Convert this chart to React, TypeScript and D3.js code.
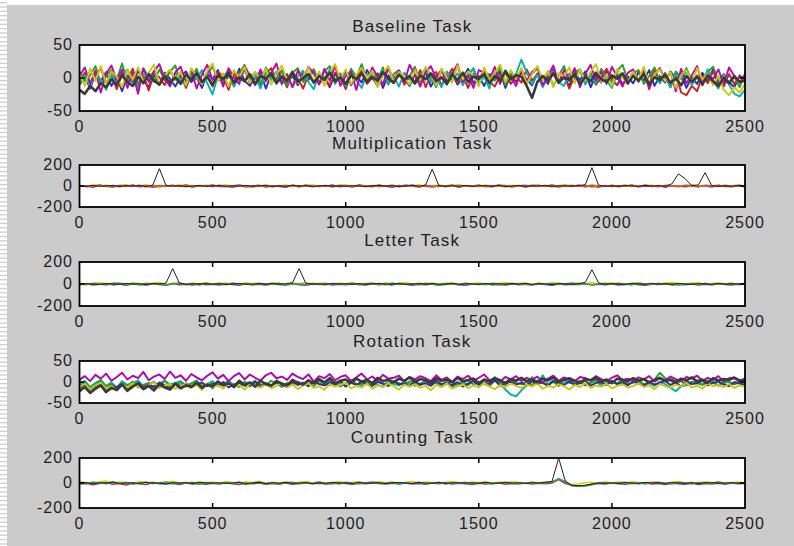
import * as d3 from 'd3';

// tick labels and panel titles
const xTicks = [0, 500, 1000, 1500, 2000, 2500];
const sampleSpan = 2500;
const titles = ['Baseline Task', 'Multiplication Task', 'Letter Task', 'Rotation Task', 'Counting Task'];
const yLimits = [50, 200, 200, 50, 200];

// ---- Baseline task (one value every 20 samples) ----
const baselineBlue = [
    -10, 2, -16, 6, -5, 9, -12, 1, -20, 4, -7, 11, -3, -14, 5, -9, 8, -1, -13, 3, 10,
    -6, 1, -15, 7, -2, 12, -10, 4, -8, 14, -4, -12, 2, 9, -16, 5, -1, 11, -7, 3, -11,
    8, -3, 13, -9, 1, -14, 6, -5, 10, -11, 3, -7, 12, -2, 7, -15, 4, -8, 11, -1, -12,
    5, -6, 9, -13, 2, 12, -4, 7, -10, 1, 14, -8, 3, -12, 6, -3, 10, -15, 4, -6, 8,
    -2, -11, 7, 3, -9, 13, -5, 1, -12, 8, -3, 10, -14, 4, -7, 11, -1, 6, -10, 2, -8,
    9, -4, 12, -12, 3, -7, 10, -2, 6, -15, 1, -9, 8, -5, 13, -11, 2, -6, -14, 4, -3,
];
const baselineRed = [
    -4, 8, -12, 3, 15, -7, 5, -17, 9, -2, 14, -9, 4, -19, 7, 1, -11, 12, -3, 6, -15,
    4, 11, -6, 2, -13, 9, 3, -18, 7, -3, 13, -8, 1, -11, 6, 15, -4, 3, -14, 8, -1,
    -16, 5, 11, -7, 2, -12, 8, 3, -17, 6, -2, 13, -9, 1, -13, 5, 15, -4, 10, -10, 2,
    -6, 12, -14, 4, 9, -11, 1, 14, -8, 3, -15, 7, -2, 11, -5, -13, 4, 9, -9, 2, -7,
    13, -4, 6, -12, 2, 10, -8, 5, -16, 3, 11, -6, 8, -10, 1, 14, -3, -11, 7, -5, 9,
    -2, 5, -9, 12, -6, 3, -14, 8, -22, -26, -12, -20, 4, -8, 10, -4, -13, 6, -9, 2, -6,
];
const baselineGreen = [
    10, -5, 4, 18, -9, 3, 12, -2, 22, -7, 8, -12, 15, 1, -6, 13, -3, 9, 19, -8, 5,
    -1, 14, -10, 7, 17, -4, 2, 11, -13, 6, 20, -2, 9, -8, 16, 3, -5, 12, -11, 8, 15,
    -6, 4, 13, -9, 10, 18, -3, 7, -12, 14, 1, 21, -5, 9, -2, 16, -10, 6, 12, -4, 3,
    17, -7, 10, 2, -14, 13, -1, 8, 19, -6, 5, 14, -9, 11, 3, -4, 16, -11, 7, 1, 12,
    -8, 6, 15, -3, 10, -12, 4, 18, -5, 9, 13, -2, 7, -10, 14, 2, -7, 11, 20, -4, 6,
    12, -9, 3, 16, -5, 8, -13, 10, 1, 15, -6, 4, -11, 9, 17, -3, 6, -8, 2, -14, 7,
];
const baselineCyan = [
    -8, 4, -14, 10, -3, -18, 7, -10, 2, 13, -6, -15, 5, -1, 11, -9, 3, -13, 8, -4, -11,
    6, -2, 12, -8, -25, 4, -5, 9, -12, 1, 14, -7, 3, -16, 8, -3, 10, -10, 5, -14, 2,
    11, -6, -17, 7, -1, 13, -9, 4, -12, 9, -4, -15, 6, 2, -10, 12, -7, 3, -13, 8, -2,
    -9, 5, 14, -6, 1, -14, 10, -3, 7, -11, 4, 15, -8, 2, -16, 9, -5, 12, -1, 6, 28,
    8, -9, 5, -14, 3, 10, -6, -12, 7, -2, 13, -10, 4, -7, 11, -4, -15, 6, 1, -9, 9,
    -5, 12, -12, 3, -8, 8, -14, 5, -2, 10, -11, 2, -7, 13, -4, -16, 6, -10, -24, -28, -18,
];
const baselineMagenta = [
    3, 16, -8, 11, -22, 6, 19, -4, 13, -15, 8, -24, 14, -6, 10, 21, -2, -12, 9, 17, -7,
    12, -16, 5, 20, -3, 9, -13, 15, 1, -9, 18, 4, -11, 13, -5, 8, 22, -8, 6, -14, 11,
    -2, 17, 7, -10, 14, -4, 19, -12, 3, 10, -18, 12, -6, 16, 2, -9, 15, -3, 11, -7, 20,
    5, -13, 9, 18, -1, 13, -10, 7, 21, -6, 4, -15, 12, 8, -3, 17, -9, 10, 1, -12, 14,
    -5, 9, 16, -11, 3, 19, -7, 12, -2, 15, -14, 6, 20, -4, 10, -9, 17, 2, -13, 8, 13,
    -6, 11, -17, 5, 15, -3, 9, -20, 14, -8, 4, 18, -11, 7, -2, 13, -9, 16, 3, -7, 5,
];
const baselineYellow = [
    6, -12, 14, -4, 18, -8, 10, 2, -14, 12, -2, 16, -6, 8, 20, -10, 4, 13, -3, 9, -11,
    15, 3, -9, 11, 22, -5, 7, -13, 12, 1, 17, -7, 9, -2, 14, -10, 6, 19, -4, 11, -8,
    3, 16, -6, 10, -12, 8, 21, -3, 13, -9, 5, 15, -1, 11, -14, 7, 18, -5, 9, 2, -10,
    12, -3, 17, 6, -11, 14, 1, -7, 19, -2, 10, 4, -13, 16, -4, 8, 20, -6, 12, -1, 15,
    -9, 6, 18, -3, 11, -14, 7, 2, 16, -8, 13, -4, 9, 21, -6, 5, -12, 14, 1, -7, 10,
    -3, 17, -10, 6, 13, -5, 9, -15, 4, 12, -8, 15, -2, 7, -11, 3, -18, -26, -14, -22, -9,
];
const baselineDark = [
    -18, -24, -12, -20, -8, -14, -2, -10, 4, -6, -12, 2, -8, 6, -4, -10, 3, -7, 1, -9, 5,
    -3, 7, -6, 2, -10, 4, -2, 8, -7, 1, -5, 6, -9, 3, -1, 7, -8, 2, -4, 9, -6,
    0, 6, -7, 3, -3, 8, -5, 1, -9, 4, -2, 7, -6, 2, -4, 9, -1, -7, 5, -3, 3,
    -8, 4, -2, 7, -5, 1, -9, 5, -3, 8, -6, 2, -1, 6, -8, 3, -4, 10, -2, 4, 2,
    -12, -30, -6, 3, -4, 7, -7, 1, -3, 6, -9, 2, -5, 8, -2, -6, 4, -1, 7, -8, 3,
    -4, 6, -10, 1, -3, 5, -7, -1, -11, 3, -6, 2, -9, 4, -5, -12, 0, -8, 3, -6, -4,
];

// ---- Multiplication task (one value every 25 samples) ----
const multYellow = [
    6, -8, 12, -3, 9, -10, 4, 14, -6, 2, 11, -5, -18, 8, -2, 13, -9, 5, -4, 10,
    -7, 3, 12, -1, 8, -11, 5, -3, 14, -6, 1, 9, -8, 4, -2, 11, -5, 7, -10, 2,
    13, -4, 6, -9, 3, 10, -2, 8, -12, 5, -1, 12, -6, 3, 9, -7, 2, 14, -4, 6,
    -8, 10, -1, 5, -11, 7, 2, -5, 13, -3, 8, -9, 4, 11, -2, 6, -7, 15, 3, -5,
    9, -2, 12, -8, 4, -4, 10, -6, 7, 1, -10, 5, 13, -3, 8, -1, 11, -7, 4, 9, -2,
];
const multPurple = [
    -5, 3, -12, 7, -2, -9, 6, -4, 10, -7, 1, -11, 4, -3, 8, -6, 2, -10, 5, -1,
    9, -5, -2, -13, 4, -7, 1, 6, -9, 3, -4, -12, 7, -1, 5, -8, 2, -3, 10, -6,
    -1, -10, 4, 2, -7, 8, -3, -11, 5, -2, 9, -6, 1, -9, 3, -4, 7, -12, 2, -5,
    6, -3, -8, 10, -1, -6, 4, -10, 2, 7, -4, 1, -9, 5, -2, 8, -7, 3, -11, 4,
    -6, 2, -3, 9, -8, 1, -5, 6, -12, 3, -1, -7, 5, -4, 2, -10, 4, -2, -8, 6, -1,
];
const multOrange = [
    3, -6, 1, 9, -4, 5, -8, 2, -3, 7, -10, 4, 0, -5, 6, -2, 11, -7, 3, -1,
    -4, 8, -6, 2, 10, -3, -9, 5, 1, -7, 6, -2, 4, -10, 9, -1, -5, 3, -8, 7,
    2, -6, 11, -3, 5, -8, 1, 7, -4, 10, -2, -9, 6, 0, -6, 3, 8, -5, 1, -2,
    9, -7, 4, -1, 6, -10, 3, 8, -5, 2, -3, 12, -6, 1, 7, -4, 5, -9, 2, -3,
    6, -8, 1, 4, -6, 10, -2, -7, 5, 3, -4, 8, -1, -9, 6, 2, -5, 7, -3, 1, -6,
];
const multBlack = [
    2, -4, 5, -2, 0, 6, -5, 3, -1, 4, -3, 8, 165, 6, -2, 3, -6, 1, 4, -3,
    0, 5, -4, 2, -1, 6, -3, 1, 4, -5, 2, -2, 7, -1, 3, -4, 0, 5, -2, 1,
    -3, 4, 0, -5, 2, 6, -1, 3, -4, 1, 5, -2, 10, 160, 4, -3, 2, -1, 6, -4,
    1, 3, -2, 5, -5, 0, 4, -3, 2, -1, 6, -4, 3, 0, -2, 5, 12, 175, 8, -3,
    2, -4, 5, 0, -3, 6, -1, 3, -2, 20, 115, 70, 4, 10, 127, 5, -4, 2, -3, 4, 0,
];

// ---- Letter task ----
const letterYellow = [
    10, -4, 7, 13, -2, 9, 3, -6, 12, 5, -1, 8, 14, -3, 6, 11, -5, 9, 2, 13,
    -2, 7, 10, 1, -4, 12, 5, 8, -3, 11, 4, -6, 9, 2, 13, -1, 6, 10, -5, 8,
    3, 12, -2, 7, 9, -4, 11, 1, 6, 14, -3, 8, 2, 10, -1, 5, 12, -5, 7, 3,
    11, -2, 8, 4, 13, -1, 6, 9, -4, 10, 2, 7, 12, -3, 5, 9, 1, 14, -2, 6,
    10, 3, -4, 8, 12, 1, 6, -2, 9, 13, 4, -1, 7, 11, -3, 5, 10, 2, 8, -1, 6,
];
const letterPurple = [
    -6, 2, -10, -3, 5, -8, -1, -12, 3, -5, -9, 1, -4, -11, 4, -7, -2, -10, 2, -6,
    -3, -9, 1, -5, -12, 3, -7, -2, -10, 0, -4, -8, 2, -6, -11, -1, -5, 3, -9, -3,
    -7, 1, -4, -10, 2, -6, -1, -8, 4, -3, -11, -2, -6, 1, -9, -4, 3, -7, -12, -1,
    -5, 2, -8, -3, -10, 1, -6, -2, -9, 3, -4, -11, 0, -7, -2, -5, 2, -8, -3, -6,
    1, -9, -4, 2, -7, -12, -1, -5, 3, -8, -2, -6, 1, -10, -3, -7, 2, -4, -9, -1, -5,
];
const letterGreen = [
    2, -7, 5, -1, -9, 4, 8, -3, 1, -6, 7, -2, 3, -8, 0, 6, -4, 2, -10, 5,
    -1, 4, -6, 9, -3, 0, -8, 5, 2, -4, 7, -9, 1, 3, -5, 8, -2, -7, 4, 0,
    -3, 6, -8, 2, 5, -1, -6, 9, -4, 1, 3, -7, 6, -2, -9, 4, 0, -5, 8, -3,
    2, -6, 5, -9, 1, 7, -3, 0, -8, 4, -2, 6, -5, 3, 9, -4, 1, -7, 2, 5,
    -3, 7, -1, -8, 4, 0, -5, 6, -2, 3, -9, 1, 5, -4, 8, -6, 2, -1, 4, -7, 3,
];
const letterBlack = [
    -2, 4, 0, -5, 3, 1, -3, 6, -1, 2, -4, 5, 0, 8, 140, 10, -3, 2, -1, 4,
    -2, 3, -5, 1, 6, -3, 0, 4, -2, 5, -1, 3, 12, 140, 6, -2, 1, -4, 5, 0,
    3, -1, 4, -3, 2, 6, -2, 0, 5, -4, 1, 3, -1, 4, -2, 0, 6, -3, 2, 1,
    -4, 5, 0, 3, -2, 4, -1, 6, -3, 2, 0, -5, 3, 1, -2, 4, 15, 130, 10, -2,
    3, 0, -3, 5, 1, -2, 4, -1, 2, -4, 6, 0, -3, 3, 1, -2, 5, -1, 2, 0, 3,
];

// ---- Rotation task (one value every 20 samples) ----
const rotationTeal = [
    -6, 3, -12, -2, 5, -9, -1, -14, 2, -7, -3, 4, -10, -5, 1, -13, 3, -6, -2, 2, -8,
    -3, 4, -11, -5, 2, -9, -4, 3, -7, -12, 1, -5, 3, -10, -2, -8, 4, -4, -9, 2, -6,
    -1, -11, 2, -3, -8, 4, -6, -2, -10, 3, -4, -9, 5, -3, -7, -11, 2, -5, -8, 1, -4,
    -9, -3, 2, -6, -1, -7, 3, -12, -4, 1, -8, 4, -5, 2, -7, 12, -3, -18, -30, -34, -20,
    -8, 12, -3, 16, -6, 4, -9, -2, 3, -5, 1, -8, -3, 4, -10, -1, 2, -6, 3, -4, -2,
    2, -7, -3, -9, 1, -5, -14, -22, -10, -8, -2, 4, -6, -1, 2, -9, -3, 1, -5, -2, -4,
];
const rotationGreen = [
    -10, -2, -15, -6, 2, -12, -5, -18, -3, -9, 1, -13, -7, -2, -14, -4, 3, -10, -6, -1, -11,
    -4, 2, -9, -5, -15, 1, -7, -2, -10, 4, -6, -11, -1, -5, -8, 3, -3, -12, -2, -6, 1,
    -7, -3, -10, 3, -5, -8, 0, -11, -2, 5, -6, -4, -1, -9, 4, -5, -10, 1, -3, -7, 2,
    -4, -8, 3, -6, -1, -11, -4, 2, -9, -2, 4, -6, 0, -4, -10, 3, -1, -7, 5, -2, -5,
    1, -7, 4, -3, -6, 0, -9, 7, -2, -5, 3, -8, -1, 5, -4, -7, 2, -3, 6, -6, -1,
    4, -5, -2, 6, 22, 9, 3, -4, 2, -6, 1, -3, -7, 4, -2, -8, 3, -1, -5, 2, -3,
];
const rotationBlue = [
    -14, -6, -19, -10, -3, -16, -8, -12, -4, -17, -9, -2, -13, -6, -11, -1, -8, -15, -5, -9, -3,
    -12, -7, -1, -10, -4, -8, 0, -13, -6, -2, -9, -7, 1, -11, -3, -8, -2, -6, -12, 0, -7,
    -3, -9, 2, -5, -8, -1, -6, 3, -11, -2, -7, 1, -5, -9, 0, -4, -8, 2, -6, -3, -10,
    1, -6, -3, -9, 3, -5, -2, -8, 0, -11, -4, 2, -7, -1, -5, 4, -9, -3, 1, -6, -2,
    -8, 2, -5, -1, -10, 3, -4, -7, 1, -6, -3, 4, -9, -2, 0, -7, 3, -5, -1, -8, 2,
    -4, -9, 1, -6, -2, 3, -7, -1, -11, 2, -5, -3, 4, -8, -2, 1, -6, -10, 0, -4, -7,
];
const rotationYellow = [
    -12, -4, -18, -8, -2, -15, -9, -20, -6, -13, -3, -11, -17, -7, -1, -14, -9, -5, -16, -10, -4,
    -14, -6, -19, -3, -11, -8, -16, -2, -12, -7, -18, -4, -10, -13, -5, -15, -9, -1, -12, -6, -17,
    -8, -3, -14, -10, -19, -5, -11, -7, -2, -15, -9, -13, -4, -16, -8, -12, -3, -10, -18, -6, -11,
    -5, -14, -9, -20, -7, -12, -3, -16, -10, -6, -15, -8, -13, -2, -11, -17, -7, -12, -4, -9, -14,
    -6, -11, -3, -16, -9, -13, -5, -10, -18, -7, -12, -2, -14, -8, -11, -4, -15, -9, -6, -13, -10,
    -3, -12, -8, -17, -5, -10, -14, -6, -11, -2, -13, -9, -16, -4, -10, -7, -12, -5, -14, -8, -11,
];
const rotationMagenta = [
    5, 14, 2, 17, 8, 20, 3, 12, 22, 6, 15, 9, 24, 4, 13, 18, 7, 25, 10, 16, 3,
    19, 11, 4, 15, 23, 8, 17, 2, 14, 21, 6, 18, 10, 3, 16, 22, 9, 13, 5, 20, 12,
    7, 18, 1, 14, 9, 19, 4, 12, 16, 2, 11, 20, 6, 13, 3, 17, 8, 10, 15, 1, 12,
    6, 14, 9, 2, 16, 5, 11, 0, 13, 7, 15, 3, 10, 18, 4, 9, 1, 12, 6, 14, 2,
    10, 5, 13, -1, 8, 15, 3, 11, 6, 1, 12, 9, 4, 14, 7, 2, 10, 16, 5, 8, 3,
    11, 6, 14, 1, 9, 4, 13, 7, 2, 12, 8, 15, 3, 10, 5, 14, 1, 9, 11, 4, 8,
];
const rotationDark = [
    -22, -12, -26, -16, -8, -24, -14, -19, -6, -21, -11, -3, -17, -9, -20, -5, -13, -18, -4, -15, -8,
    -12, -2, -14, -6, -10, 1, -8, -3, -12, 2, -7, -1, -11, 3, -5, -9, 2, -4, -8, 5, -2,
    -6, 4, -3, 7, -1, 9, -4, 3, 6, -2, 8, 1, 5, -3, 10, 2, 6, -1, 8, 3, 11,
    0, 7, 4, -2, 9, 3, 6, -1, 10, 2, 5, 8, -3, 6, 1, 9, 4, -2, 7, 3, 10,
    2, 6, -1, 8, 4, 11, 0, 5, 9, 3, -2, 7, 4, 10, 1, 6, -3, 8, 5, 2, 9,
    3, 7, -1, 5, 10, 2, 6, 0, 8, 4, 11, 1, 6, -2, 9, 3, 7, 5, 10, 2, 6,
];

// ---- Counting task (one value every 25 samples) ----
const countYellow = [
    12, 3, -5, 10, 16, -2, 8, 4, -6, 13, 1, 9, -3, 7, 14, 0, 6, -4, 11, 2,
    8, -2, 12, 5, -1, 10, 3, 15, -3, 7, 1, 11, -4, 6, 13, 2, 9, -1, 5, 12,
    0, 7, 10, -3, 4, 11, 2, 8, -2, 6, 13, 1, 9, 4, -1, 7, 12, 3, -3, 8,
    5, 10, -1, 6, 2, 11, 4, -2, 8, 3, 9, 6, 25, 4, -12, -8, 2, 7, -1, 10,
    3, 8, -2, 11, 5, 0, 9, 4, -3, 7, 12, 1, 6, -1, 10, 3, 8, -2, 5, 9, 2,
];
const countPurple = [
    -8, -2, -14, -5, 3, -10, -4, -16, -1, -7, -12, 2, -6, -9, -3, -13, 0, -8, -5, -11,
    -2, -9, 1, -6, -12, -3, -7, 0, -10, -4, -8, -1, -11, -5, 2, -7, -3, -9, -6, 0,
    -4, -10, -2, -7, 1, -5, -9, -3, -6, 0, -8, -4, -11, -1, -6, 2, -9, -3, -7, -12,
    -2, -8, -5, 1, -10, -4, -6, -1, -9, -3, -7, 0, 30, -5, -18, -24, -20, -10, -4, -8,
    -1, -6, -11, -3, -7, 2, -9, -4, -12, -2, -6, -10, -1, -13, -5, -8, -3, -11, 0, -6, -4,
];
const countGreen = [
    4, -9, 8, 1, -6, 10, -3, 5, -11, 2, 7, -5, 0, 9, -8, 3, -2, 6, -10, 4,
    1, -7, 5, -3, 8, -12, 2, 6, -4, 0, -9, 3, 7, -6, 1, -2, 9, -5, 4, -8,
    6, -1, -7, 3, 8, -4, 0, 5, -10, 2, -3, 7, -6, 1, 4, -9, 3, -2, 6, -5,
    0, 4, -8, 2, 7, -3, -6, 1, 5, -2, 3, 8, 35, 10, -22, -26, -24, -15, 0, 3,
    -5, 2, 6, -4, 1, -8, 3, 7, -2, -6, 4, 0, -9, 5, 2, -3, 8, -1, -5, 3, 1,
];
const countBlack = [
    -3, 5, -6, 2, -1, 7, -4, 0, 3, -5, 6, -2, 1, -7, 4, -1, 2, -4, 5, 0,
    -2, 3, -5, 1, 4, -3, 0, 6, -4, 2, -1, 5, -3, 0, 3, -6, 2, -2, 4, -1,
    1, -4, 6, -2, 0, 3, -5, 2, 5, -1, -3, 4, 0, -2, 6, -4, 1, 3, -1, 2,
    -3, 5, 0, -2, 4, -1, 3, -4, 2, 0, 6, 12, 200, 15, -20, -22, -18, -8, 2, -3,
    1, -4, 3, 0, -2, 5, -1, 2, -3, 4, 0, -2, 3, -5, 1, 4, -1, 0, 2, -3, 1,
];

const seriesByPanel = [
    [baselineBlue, baselineRed, baselineGreen, baselineCyan, baselineMagenta, baselineYellow, baselineDark],
    [multYellow, multPurple, multOrange, multBlack],
    [letterYellow, letterPurple, letterGreen, letterBlack],
    [rotationTeal, rotationGreen, rotationBlue, rotationYellow, rotationMagenta, rotationDark],
    [countYellow, countPurple, countGreen, countBlack],
];
const colorsByPanel = [
    ['#2a2ac8', '#d41c1c', '#22a02a', '#00b4b4', '#c800b4', '#cfc800', '#3a3a3a'],
    ['#d8d400', '#7a3aa0', '#d0602a', '#202020'],
    ['#d8d400', '#7a3aa0', '#40a040', '#202020'],
    ['#00b49a', '#2ca02c', '#3a28a0', '#d2c800', '#b400b4', '#3a3a3a'],
    ['#d8d400', '#b0306a', '#30a060', '#202020'],
];

const W = 794;
const H = 546;
const LEFT = 79.5;
const RIGHT = 745;
const panelTops = [45, 165, 262, 361, 458];
const panelBottoms = [111, 207, 306, 403, 508];
const titleBaselines = [32, 149, 246, 347, 443];
const FONT = '"Liberation Sans", Arial, sans-serif';
const BG = '#cbcbcb';

function Panel({ idx }: { idx: number }) {
    const top = panelTops[idx];
    const bottom = panelBottoms[idx];
    const lim = yLimits[idx];
    const x = d3.scaleLinear().domain([0, sampleSpan]).range([LEFT, RIGHT]);
    const y = d3.scaleLinear().domain([-lim, lim]).range([bottom, top]);
    const dense = lim === 50;
    const clipId = `clip-${idx}`;

    const path = (vals: number[]) =>
        d3
            .line<number>()
            .x((_, i) => x((i * sampleSpan) / (vals.length - 1)))
            .y((d) => y(d))(vals) ?? '';

    // dense panels: the dark channel lies on top as a thick band
    const width = (isLast: boolean) => (dense ? (isLast ? 2.6 : 1.9) : isLast ? 1 : 1.5);

    return (
        <g>
            <clipPath id={clipId}>
                <rect x={LEFT} y={top} width={RIGHT - LEFT} height={bottom - top} />
            </clipPath>
            <rect x={LEFT} y={top} width={RIGHT - LEFT} height={bottom - top} fill="#ffffff" />
            <g clipPath={`url(#${clipId})`}>
                {seriesByPanel[idx].map((vals, k, all) => (
                    <path
                        key={k}
                        d={path(vals)}
                        fill="none"
                        stroke={colorsByPanel[idx][k]}
                        strokeWidth={width(k === all.length - 1)}
                        strokeLinejoin="round"
                    />
                ))}
            </g>
            {/* ticks, inside the box */}
            {xTicks.slice(1, -1).map((t) => (
                <g key={t} stroke="#000" strokeWidth={1.5}>
                    <line x1={x(t)} x2={x(t)} y1={top} y2={top + 5} />
                    <line x1={x(t)} x2={x(t)} y1={bottom} y2={bottom - 5} />
                </g>
            ))}
            <g stroke="#000" strokeWidth={1.5}>
                <line x1={LEFT} x2={LEFT + 5} y1={y(0)} y2={y(0)} />
                <line x1={RIGHT} x2={RIGHT - 5} y1={y(0)} y2={y(0)} />
            </g>
            <rect
                x={LEFT}
                y={top}
                width={RIGHT - LEFT}
                height={bottom - top}
                fill="none"
                stroke="#000"
                strokeWidth={1.8}
            />
            {/* labels */}
            <g fontFamily={FONT} fontSize={16} fill="#1e1e1e" letterSpacing={1}>
                {xTicks.map((t) => (
                    <text key={t} x={x(t)} y={bottom + 21} textAnchor="middle">
                        {t}
                    </text>
                ))}
                {[lim, 0, -lim].map((t) => (
                    <text key={t} x={73} y={y(t) - 1} textAnchor="end" dominantBaseline="central">
                        {t}
                    </text>
                ))}
            </g>
            <text
                x={(LEFT + RIGHT) / 2}
                y={titleBaselines[idx]}
                textAnchor="middle"
                fontFamily={FONT}
                fontSize={17}
                letterSpacing={1.2}
                fill="#1e1e1e"
            >
                {titles[idx]}
            </text>
        </g>
    );
}

export default function App() {
    const stripes = d3.range(2, H, 4.33);
    return (
        <svg
            width={W}
            height={H}
            style={{ position: 'absolute', left: 0, top: 0, display: 'block' }}
        >
            <rect x={0} y={0} width={W} height={H} fill="#ffffff" />
            {stripes.map((s, i) => (
                <rect key={i} x={0} y={s} width={7} height={1.3} fill="#cfcfcf" />
            ))}
            <rect x={7} y={5} width={W - 7} height={H - 5} fill={BG} />
            {titles.map((_, i) => (
                <Panel key={i} idx={i} />
            ))}
        </svg>
    );
}
